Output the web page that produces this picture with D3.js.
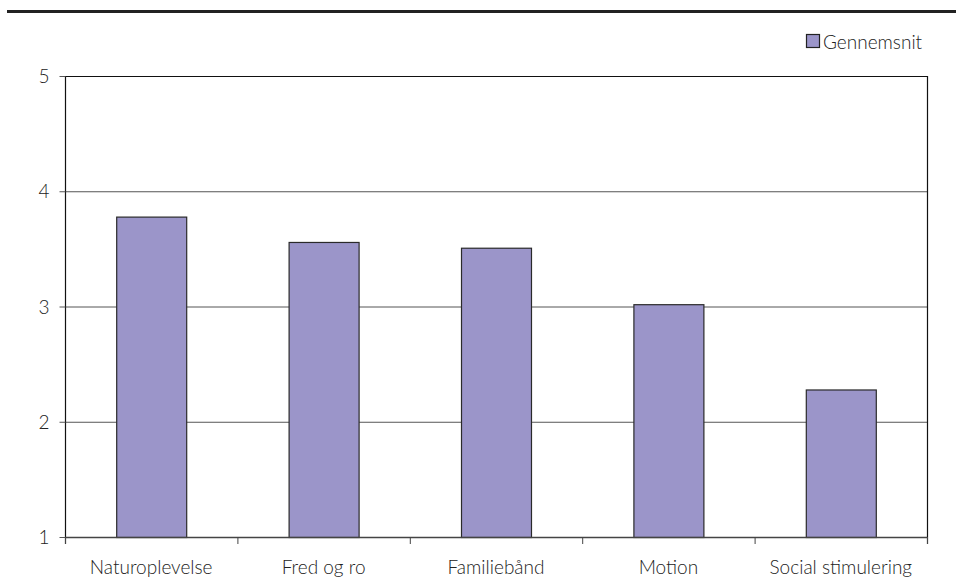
<!DOCTYPE html>
<html><head><meta charset="utf-8">
<script src="https://cdn.jsdelivr.net/npm/d3@7"></script>
<style>
body{margin:0;background:#fff;}
text{font-family:Lato,"Open Sans",sans-serif;fill:#222;font-weight:300;}
</style></head>
<body><svg id="c" width="956" height="581"></svg>
<script>
const categories = ["Naturoplevelse","Fred og ro","Familiebånd","Motion","Social stimulering"];
const values = [3.78, 3.56, 3.51, 3.02, 2.28];
const seriesName = "Gennemsnit";
const yTicks = [1,2,3,4,5];

const svg = d3.select("#c");
const L = 65, R = 927, T = 76, B = 537;
const FS = 19;

// top rule
svg.append("line").attr("x1",7).attr("x2",956).attr("y1",11.5).attr("y2",11.5)
  .attr("stroke","#222").attr("stroke-width",3);

const x = d3.scaleBand().domain(categories).range([L,R]).paddingInner(0.594).paddingOuter(0.297);
const y = d3.scaleLinear().domain([1,5]).range([B,T]);

// gridlines
svg.append("g").selectAll("line").data(yTicks.filter(t=>t>1 && t<5)).join("line")
  .attr("x1",L).attr("x2",R).attr("y1",d=>y(d)+0.5).attr("y2",d=>y(d)+0.5)
  .attr("stroke","#555").attr("stroke-width",1);

// bars
svg.append("g").selectAll("rect").data(values).join("rect")
  .attr("x",(d,i)=>x(categories[i])+0.5)
  .attr("y",d=>y(d)+0.5)
  .attr("width",x.bandwidth())
  .attr("height",d=>B-y(d))
  .attr("fill","#9b95c9").attr("stroke","#2a2a2a").attr("stroke-width",1.2);

// frame top and right
svg.append("line").attr("x1",L).attr("x2",R+0.5).attr("y1",T+0.5).attr("y2",T+0.5).attr("stroke","#111").attr("stroke-width",1.2);
svg.append("line").attr("x1",R+0.5).attr("x2",R+0.5).attr("y1",T).attr("y2",B+7).attr("stroke","#111").attr("stroke-width",1.2);

// y axis
const yAxis = d3.axisLeft(y).tickValues(yTicks).tickSize(6).tickPadding(10).tickFormat(d3.format("d"));
const gy = svg.append("g").attr("transform",`translate(${L+0.5},0)`).call(yAxis);
gy.select(".domain").attr("stroke","#111").attr("stroke-width",1.2).attr("d",`M0,${T}V${B+7}`);
gy.selectAll(".tick line").attr("stroke","#555");
gy.selectAll(".tick text").attr("font-size",FS).attr("font-family","Lato").attr("font-weight",300).attr("fill","#222").attr("dy","0.35em");

// x axis with ticks at band boundaries
const bounds = categories.map(c=>x(c)-x.step()*x.paddingInner()/2).concat([R]);
bounds[0] = L;
const gx = svg.append("g");
gx.append("line").attr("x1",L).attr("x2",R).attr("y1",B+0.5).attr("y2",B+0.5).attr("stroke","#444").attr("stroke-width",1.4);
gx.selectAll("line.tk").data(bounds).join("line").attr("class","tk")
  .attr("x1",d=>d+0.5).attr("x2",d=>d+0.5).attr("y1",B).attr("y2",B+7).attr("stroke","#444");
gx.selectAll("text").data(categories).join("text")
  .attr("x",d=>x(d)+x.bandwidth()/2).attr("y",574)
  .attr("text-anchor","middle").attr("font-size",FS).text(d=>d);

// legend
const lg = svg.append("g");
lg.append("rect").attr("x",806.5).attr("y",34.5).attr("width",13).attr("height",13)
  .attr("fill","#9b95c9").attr("stroke","#222").attr("stroke-width",1.2);
lg.append("text").attr("x",823).attr("y",48.5).attr("font-size",FS).text(seriesName);
</script></body></html>
